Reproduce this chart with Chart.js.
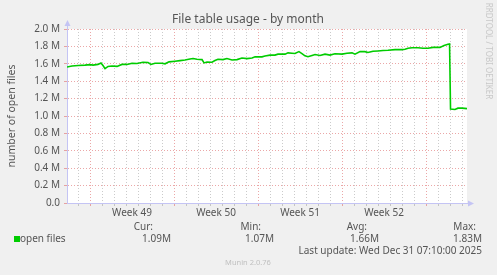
<!DOCTYPE html>
<html>
<head>
<meta charset="utf-8">
<script src="https://cdn.jsdelivr.net/npm/chart.js@4/dist/chart.umd.min.js"></script>
<style>
  html, body { margin: 0; padding: 0; background: #f0f0f0; }
  canvas { display: block; }
</style>
</head>
<body>
<canvas id="fileChart" width="497" height="275"></canvas>
<script>
// days since the left edge of the graph
const dayOffsets = [
  0, 0.42, 0.92, 1.5, 1.92, 2.17, 2.58, 2.83, 3.0, 3.17, 3.42, 3.75, 4.17, 4.58, 5.0,
  5.42, 5.83, 6.33, 6.75, 7.0, 7.33, 7.92, 8.17, 8.5, 9.0, 9.42, 9.83, 10.25, 10.5,
  10.83, 11.25, 11.42, 11.67, 12.08, 12.33, 12.58, 13.0, 13.33, 13.75, 14.17, 14.58,
  15.0, 15.42, 15.67, 16.25, 16.5, 16.92, 17.33, 17.58, 18.17, 18.42, 18.75, 19.0,
  19.33, 19.58, 19.83, 20.08, 20.42, 20.67, 21.08, 21.5, 21.92, 22.33, 22.92, 23.33,
  23.75, 24.0, 24.42, 24.83, 25.08, 25.5, 25.92, 26.33, 26.75, 27.33, 27.92, 28.17,
  28.42, 28.75, 29.25, 29.67, 30.08, 30.5, 31.08, 31.42, 31.75, 31.88, 31.96, 32.33,
  32.58, 32.92, 33.33
];

const openFiles = [
  1563000, 1574000, 1580000, 1585000, 1590000, 1585000, 1593000, 1610000, 1580000, 1545000,
  1570000, 1574000, 1570000, 1593000, 1593000, 1607000, 1604000, 1618000, 1615000, 1593000,
  1607000, 1607000, 1600000, 1622000, 1630000, 1637000, 1644000, 1655000, 1660000, 1652000,
  1648000, 1610000, 1620000, 1618000, 1637000, 1652000, 1648000, 1660000, 1644000, 1648000,
  1667000, 1660000, 1667000, 1680000, 1680000, 1689000, 1700000, 1700000, 1711000, 1711000,
  1726000, 1722000, 1718000, 1740000, 1718000, 1692000, 1681000, 1696000, 1707000, 1696000,
  1711000, 1700000, 1715000, 1711000, 1722000, 1726000, 1711000, 1740000, 1740000, 1730000,
  1744000, 1748000, 1752000, 1755000, 1763000, 1763000, 1767000, 1778000, 1785000, 1785000,
  1778000, 1778000, 1789000, 1789000, 1810000, 1825000, 1828000, 1080000, 1075000, 1090000,
  1090000, 1085000
];

const weekLabels = ['Week 49', 'Week 50', 'Week 51', 'Week 52'];
const weekStarts = [1.917, 8.917, 15.917, 22.917, 29.917];

const statLabels = ['Cur:', 'Min:', 'Avg:', 'Max:'];
const statValues = ['1.09M', '1.07M', '1.66M', '1.83M'];

const seriesName = 'open files';
const lastUpdate = 'Last update: Wed Dec 31 07:10:00 2025';

const FONT = '"Noto Sans", "Open Sans", sans-serif';
const TEXT = '#555555';
const RED_GRID = 'rgba(225, 120, 120, 0.65)';
const GREY_GRID = 'rgba(160, 160, 160, 0.55)';
const AXIS = '#c4c4f4';

const weekCenters = weekStarts.slice(0, weekLabels.length).map(s => s + 3.5);

function isWeekStart(v) {
  return weekStarts.some(s => Math.abs(s - v) < 1e-6);
}

function isWeekCenter(v) {
  return weekCenters.some(c => Math.abs(c - v) < 1e-6);
}

const muninPlugin = {
  id: 'munin',
  beforeDraw(chart) {
    const { ctx, chartArea } = chart;
    ctx.save();
    ctx.fillStyle = '#ffffff';
    ctx.fillRect(chartArea.left, chartArea.top, chartArea.right - chartArea.left, chartArea.bottom - chartArea.top);
    ctx.restore();
  },
  afterDraw(chart) {
    const { ctx, chartArea } = chart;
    const left = chartArea.left;
    const bottom = chartArea.bottom;

    ctx.save();

    // axis arrows
    ctx.strokeStyle = AXIS;
    ctx.fillStyle = AXIS;
    ctx.lineWidth = 1;
    ctx.beginPath();
    ctx.moveTo(left + 0.5, chartArea.top);
    ctx.lineTo(left + 0.5, 24);
    ctx.moveTo(chartArea.right, bottom + 0.5);
    ctx.lineTo(470, bottom + 0.5);
    ctx.stroke();
    ctx.beginPath();
    ctx.moveTo(left + 0.5, 20);
    ctx.lineTo(left - 2.5, 26);
    ctx.lineTo(left + 3.5, 26);
    ctx.closePath();
    ctx.fill();
    ctx.beginPath();
    ctx.moveTo(474, bottom + 0.5);
    ctx.lineTo(468, bottom - 2.5);
    ctx.lineTo(468, bottom + 3.5);
    ctx.closePath();
    ctx.fill();

    // title
    ctx.fillStyle = TEXT;
    ctx.font = '12px ' + FONT;
    ctx.textAlign = 'center';
    ctx.textBaseline = 'middle';
    ctx.fillText('File table usage - by month', 248, 20);

    // y axis title
    ctx.save();
    ctx.translate(12, 116);
    ctx.rotate(-Math.PI / 2);
    ctx.font = '10.5px ' + FONT;
    ctx.fillText('number of open files', 0, 0);
    ctx.restore();

    // rrdtool credit
    ctx.save();
    ctx.translate(488, 51);
    ctx.rotate(Math.PI / 2);
    ctx.fillStyle = '#c8c8c8';
    ctx.font = '8px ' + FONT;
    ctx.fillText('RRDTOOL / TOBI OETIKER', 0, 0);
    ctx.restore();

    // legend
    ctx.font = '10px ' + FONT;
    ctx.fillStyle = TEXT;
    ctx.textAlign = 'right';
    const labelRight = [153, 261, 367, 476];
    const valueRight = [171, 274, 379, 482];
    statLabels.forEach((l, i) => ctx.fillText(l, labelRight[i], 227));
    statValues.forEach((v, i) => ctx.fillText(v, valueRight[i], 239));
    ctx.fillText(lastUpdate, 482, 251);

    ctx.fillStyle = '#00cc00';
    ctx.fillRect(14, 236, 6, 6);
    ctx.fillStyle = TEXT;
    ctx.textAlign = 'left';
    ctx.fillText(seriesName, 20, 239);

    ctx.fillStyle = '#c0c0c0';
    ctx.font = '7.5px ' + FONT;
    ctx.textAlign = 'center';
    ctx.fillText('Munin 2.0.76', 248, 263);

    ctx.restore();
  }
};

function createFileChart(canvasId) {
  const canvas = document.getElementById(canvasId);
  const points = dayOffsets.map((d, i) => ({ x: d, y: openFiles[i] }));

  return new Chart(canvas, {
    type: 'line',
    data: {
      datasets: [{
        label: seriesName,
        data: points,
        borderColor: '#00cc00',
        borderWidth: 1.6,
        pointRadius: 0,
        tension: 0,
        fill: false
      }]
    },
    options: {
      responsive: false,
      animation: false,
      devicePixelRatio: 1,
      layout: { padding: { top: 29, right: 30, bottom: 0, left: 0 } },
      plugins: {
        legend: { display: false },
        tooltip: { enabled: false },
        title: { display: false }
      },
      scales: {
        x: {
          type: 'linear',
          min: 0,
          max: 33.333,
          afterFit(scale) { scale.height = 72; },
          afterBuildTicks(scale) {
            const ticks = [];
            for (let d = weekStarts[0] - 1; d < 33.3; d += 1) {
              ticks.push({ value: Math.round(d * 1000) / 1000 });
            }
            weekCenters.forEach(c => ticks.push({ value: c }));
            ticks.sort((a, b) => a.value - b.value);
            scale.ticks = ticks;
          },
          ticks: {
            autoSkip: false,
            maxRotation: 0,
            minRotation: 0,
            padding: 1,
            color: TEXT,
            font: { family: FONT, size: 10 },
            callback(value) {
              const i = weekCenters.findIndex(c => Math.abs(c - value) < 1e-6);
              return i >= 0 ? weekLabels[i] : '';
            }
          },
          grid: {
            tickLength: 3,
            color(ctx) {
              const v = ctx.tick ? ctx.tick.value : 0;
              if (isWeekCenter(v)) return 'rgba(0,0,0,0)';
              return isWeekStart(v) ? RED_GRID : GREY_GRID;
            },
            tickColor(ctx) {
              const v = ctx.tick ? ctx.tick.value : 0;
              if (isWeekCenter(v)) return 'rgba(0,0,0,0)';
              return isWeekStart(v) ? RED_GRID : GREY_GRID;
            }
          },
          border: { color: AXIS, width: 1, dash: [1, 2] }
        },
        y: {
          min: 0,
          max: 2000000,
          afterFit(scale) { scale.width = 67; },
          ticks: {
            stepSize: 100000,
            padding: 4,
            color: TEXT,
            font: { family: FONT, size: 10 },
            callback(value) {
              if (value % 200000 !== 0) return '';
              if (value === 0) return '0.0';
              return (value / 1000000).toFixed(1) + ' M';
            }
          },
          grid: {
            tickLength: 3,
            color(ctx) {
              const v = ctx.tick ? ctx.tick.value : 0;
              return v % 200000 === 0 ? RED_GRID : GREY_GRID;
            },
            tickColor(ctx) {
              const v = ctx.tick ? ctx.tick.value : 0;
              return v % 200000 === 0 ? RED_GRID : GREY_GRID;
            }
          },
          border: { color: AXIS, width: 1, dash: [1, 2] }
        }
      }
    },
    plugins: [muninPlugin]
  });
}

createFileChart('fileChart');
</script>
</body>
</html>
